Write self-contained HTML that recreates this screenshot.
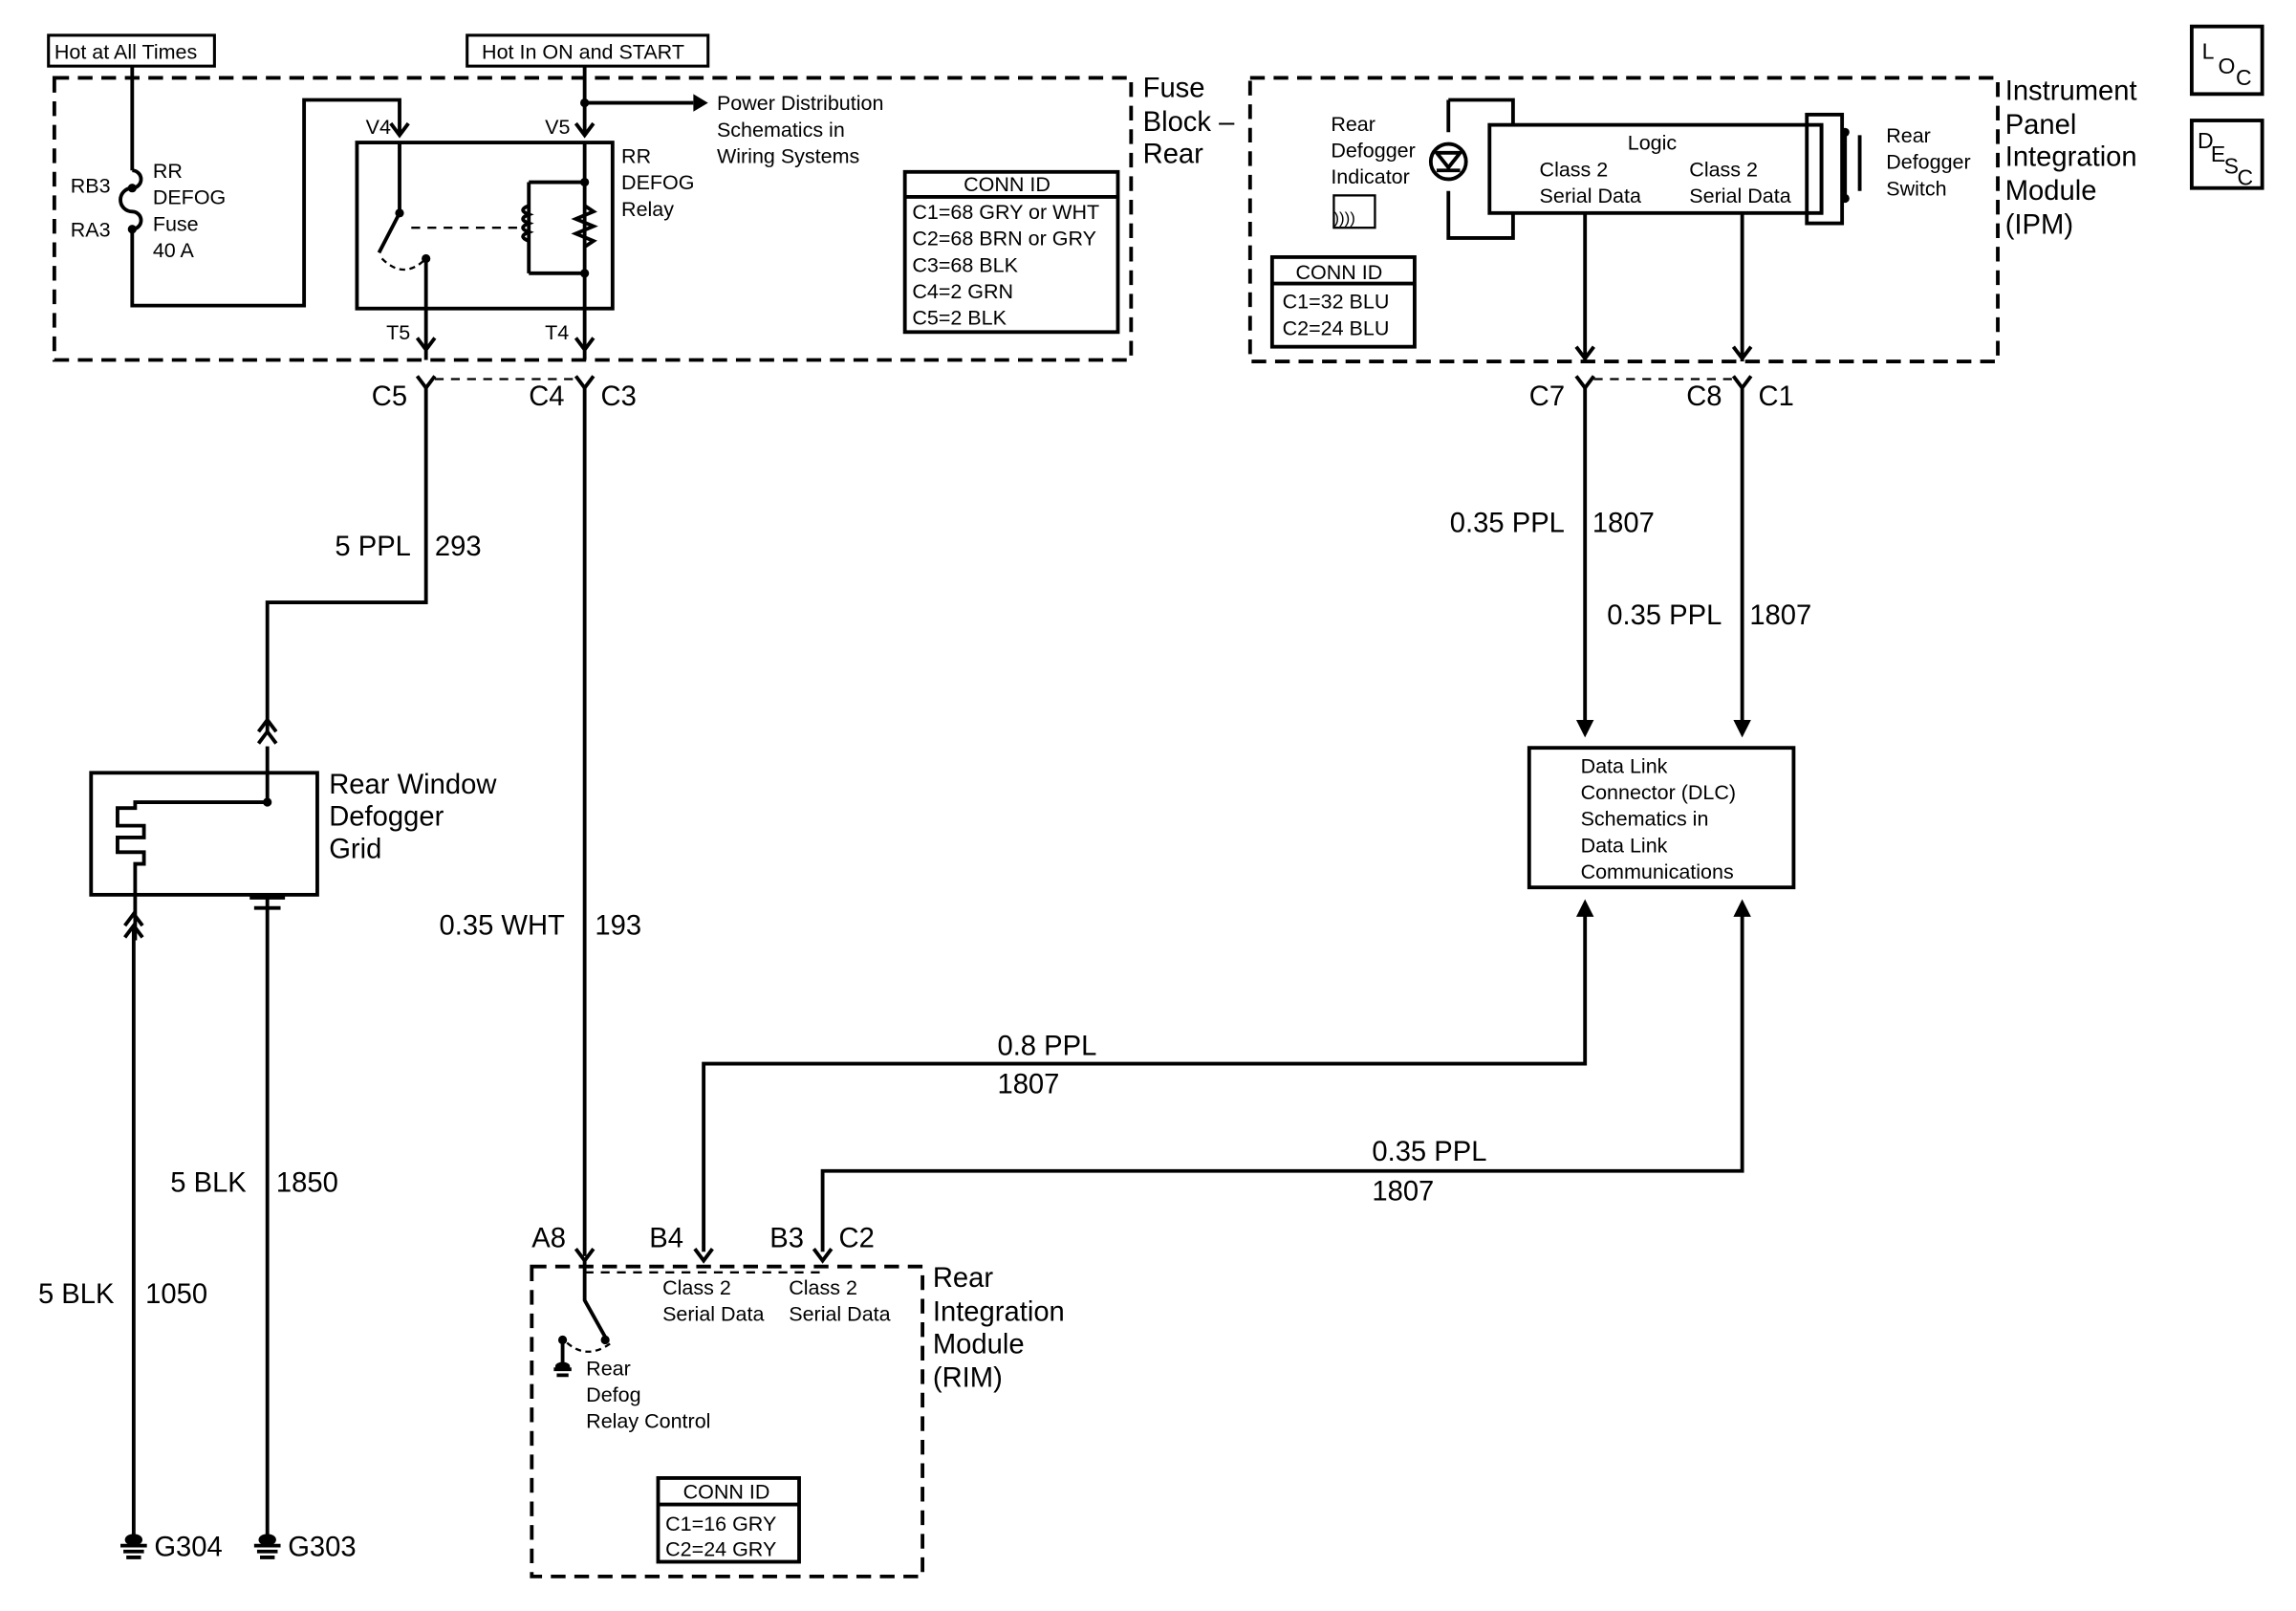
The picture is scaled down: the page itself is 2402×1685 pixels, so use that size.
<!DOCTYPE html>
<html><head><meta charset="utf-8"><style>
html,body{margin:0;padding:0;background:#fff}
svg{display:block}
text{font-family:"Liberation Sans",Arial,sans-serif;fill:#000}
.s{font-size:14px}.m{font-size:15px}.l{font-size:19px}
</style></head><body>
<svg width="2402" height="1685" viewBox="0 0 1563 1096.5" preserveAspectRatio="none" xmlns="http://www.w3.org/2000/svg">
<g fill="none" stroke="#000" stroke-width="2.5">
<!-- top boxes -->
<rect x="33" y="24" width="113" height="21" stroke-width="2"/>
<rect x="318" y="24" width="164" height="21" stroke-width="2"/>
<!-- fuse block dashed -->
<rect x="37" y="53" width="733" height="192" stroke-dasharray="10,6"/>
<!-- hot at all times wire -->
<path d="M90 45V116M90 156V208H207V68H272V90"/>
<path d="M90 116a6 6 0 0 1 0 12a8 8 0 0 0 0 16a6 6 0 0 1 0 12"/>
<path d="M398 45V90M398 70H472"/>
<path d="M266 84l6 8l6-8M392 84l6 8l6-8"/>
<!-- relay -->
<rect x="243" y="97" width="174" height="113"/>
<path d="M272 97V145L258 172M290 176V210M398 97V210M360 124H398M360 186H398M360 124V186"/>
<path d="M280 155H352" stroke-dasharray="6,5" stroke-width="1.5"/>
<path d="M360 140q-8 3 0 6q-8 3 0 6q-8 3 0 6q-8 3 0 6" />
<path d="M398 140l6 4l-12 5l12 5l-12 5l12 5l-6 4"/>
<path d="M260 176q15 15 30 0" stroke-dasharray="4,3" stroke-width="1.5"/>
<path d="M284 230l6 8l6-8M392 230l6 8l6-8M290 210V245M398 210V245"/>
<!-- conn id fuse -->
<rect x="616" y="117" width="145" height="109"/><path d="M616 134H761"/>
<!-- connectors below fuse -->
<path d="M284 256l6 8l6-8M392 256l6 8l6-8"/>
<path d="M296 258H392" stroke-dasharray="6,5" stroke-width="1.5"/>
<path d="M290 262V410H182V500M398 262V855"/>
<path d="M176 498l6-8l6 8M176 506l6-8l6 8"/>
<!-- defogger -->
<rect x="62" y="526" width="154" height="83"/>
<path d="M182 508V546H92V550H80V562H98V570H80V580H98V588H92V640M182 609V1050"/>
<path d="M170 611H194M173 618H191"/>
<path d="M85 638l6-8l6 8M85 630l6-8l6 8"/>
<path d="M91 632V1050M91 1050H91"/>
<!-- grounds -->
<path d="M82 1052H100M84 1056H98M86 1060H96M173 1052H191M175 1056H189M177 1060H187"/>
<!-- IPM -->
<rect x="851" y="53" width="509" height="193" stroke-dasharray="10,6"/>
<rect x="1014" y="85" width="226" height="60"/>
<path d="M986 68H1030V85M986 68V90M986 130V162H1030V145"/>
<circle cx="986" cy="110" r="12"/>
<path d="M978 104h16l-8 10zM978 116h16"/>
<rect x="1230" y="78" width="24" height="74"/>
<path d="M1240 85V145M1254 90L1256 90M1256 88V135M1266 92V130"/>
<rect x="866" y="175" width="97" height="61"/><path d="M866 193H963"/>
<rect x="908" y="133" width="28" height="22" stroke-width="1.5"/>
<path d="M1079 145V246M1186 145V246M1073 236l6 8l6-8M1180 236l6 8l6-8"/>
<path d="M1073 256l6 8l6-8M1180 256l6 8l6-8"/>
<path d="M1085 258H1180" stroke-dasharray="6,5" stroke-width="1.5"/>
<path d="M1079 262V490M1186 262V490"/>
<!-- DLC -->
<rect x="1041" y="509" width="180" height="95"/>
<path d="M1079 622V724H479V852M1186 622V797H560V852"/>
<!-- RIM -->
<rect x="362" y="862" width="266" height="211" stroke-dasharray="10,6"/>
<path d="M392 850l6 8l6-8M473 850l6 8l6-8M554 850l6 8l6-8"/>
<path d="M398 858V885L412 910M383 912V932M377 932H389M379 936H387"/>
<path d="M386 914q14 12 30 0" stroke-dasharray="4,3" stroke-width="1.5"/>
<path d="M398 866H560" stroke-dasharray="6,5" stroke-width="1.5"/>
<rect x="448" y="1006" width="96" height="57"/><path d="M448 1024H544"/>
<!-- LOC DESC -->
<rect x="1492" y="18" width="48" height="46"/>
<rect x="1492" y="82" width="48" height="46"/>
</g>
<g fill="#000">
<path d="M472 64l10 6l-10 6z"/>
<path d="M1073 490l6 12l6-12zM1180 490l6 12l6-12zM1073 624l6-12l6 12zM1180 624l6-12l6 12z"/>
<circle cx="90" cy="128" r="3"/><circle cx="90" cy="156" r="3"/>
<circle cx="398" cy="70" r="3"/><circle cx="398" cy="124" r="3"/><circle cx="398" cy="186" r="3"/>
<circle cx="272" cy="145" r="3"/><circle cx="290" cy="176" r="3"/><circle cx="182" cy="546" r="3"/>
<circle cx="1256" cy="90" r="3"/><circle cx="1256" cy="135" r="3"/>
<circle cx="383" cy="912" r="3"/><circle cx="412" cy="912" r="3"/>
<ellipse cx="91" cy="1048" rx="6" ry="4"/><ellipse cx="182" cy="1048" rx="6" ry="4"/>
<ellipse cx="383" cy="930" rx="5" ry="3"/>
</g>
<text class="s" x="37" y="40">Hot at All Times</text>
<text class="s" x="328" y="40">Hot In ON and START</text>
<text class="s" x="48" y="131">RB3</text><text class="s" x="48" y="161">RA3</text>
<text class="s" x="104" y="121">RR</text><text class="s" x="104" y="139">DEFOG</text><text class="s" x="104" y="157">Fuse</text><text class="s" x="104" y="175">40 A</text>
<text class="s" x="249" y="91">V4</text><text class="s" x="371" y="91">V5</text>
<text class="s" x="423" y="111">RR</text><text class="s" x="423" y="129">DEFOG</text><text class="s" x="423" y="147">Relay</text>
<text class="s" x="488" y="75">Power Distribution</text><text class="s" x="488" y="93">Schematics in</text><text class="s" x="488" y="111">Wiring Systems</text>
<text class="s" x="263" y="231">T5</text><text class="s" x="371" y="231">T4</text>
<text class="s" x="656" y="130">CONN ID</text>
<text class="s" x="621" y="149">C1=68 GRY or WHT</text><text class="s" x="621" y="167">C2=68 BRN or GRY</text>
<text class="s" x="621" y="185">C3=68 BLK</text><text class="s" x="621" y="203">C4=2 GRN</text><text class="s" x="621" y="221">C5=2 BLK</text>
<text class="l" x="778" y="66">Fuse</text><text class="l" x="778" y="89">Block –</text><text class="l" x="778" y="111">Rear</text>
<text class="l" x="253" y="276">C5</text><text class="l" x="360" y="276">C4</text><text class="l" x="409" y="276">C3</text>
<text class="l" x="228" y="378">5 PPL</text><text class="l" x="296" y="378">293</text>
<text class="l" x="224" y="540">Rear Window</text><text class="l" x="224" y="562">Defogger</text><text class="l" x="224" y="584">Grid</text>
<text class="l" x="299" y="636">0.35 WHT</text><text class="l" x="405" y="636">193</text>
<text class="l" x="116" y="811">5 BLK</text><text class="l" x="188" y="811">1850</text>
<text class="l" x="26" y="887">5 BLK</text><text class="l" x="99" y="887">1050</text>
<text class="l" x="105" y="1059">G304</text><text class="l" x="196" y="1059">G303</text>
<text class="s" x="906" y="89">Rear</text><text class="s" x="906" y="107">Defogger</text><text class="s" x="906" y="125">Indicator</text>
<text class="s" x="908" y="152" style="font-size:11px">))))</text>
<text class="s" x="1108" y="102">Logic</text>
<text class="s" x="1048" y="120">Class 2</text><text class="s" x="1048" y="138">Serial Data</text>
<text class="s" x="1150" y="120">Class 2</text><text class="s" x="1150" y="138">Serial Data</text>
<text class="s" x="1284" y="97">Rear</text><text class="s" x="1284" y="115">Defogger</text><text class="s" x="1284" y="133">Switch</text>
<text class="s" x="882" y="190">CONN ID</text><text class="s" x="873" y="210">C1=32 BLU</text><text class="s" x="873" y="228">C2=24 BLU</text>
<text class="l" x="1365" y="68">Instrument</text><text class="l" x="1365" y="91">Panel</text><text class="l" x="1365" y="113">Integration</text><text class="l" x="1365" y="136">Module</text><text class="l" x="1365" y="159">(IPM)</text>
<text class="m" x="1499" y="40">L</text><text class="m" x="1510" y="50">O</text><text class="m" x="1522" y="58">C</text>
<text class="m" x="1496" y="101">D</text><text class="m" x="1505" y="110">E</text><text class="m" x="1514" y="118">S</text><text class="m" x="1523" y="126">C</text>
<text class="l" x="1041" y="276">C7</text><text class="l" x="1148" y="276">C8</text><text class="l" x="1197" y="276">C1</text>
<text class="l" x="987" y="362">0.35 PPL</text><text class="l" x="1084" y="362">1807</text>
<text class="l" x="1094" y="425">0.35 PPL</text><text class="l" x="1191" y="425">1807</text>
<text class="s" x="1076" y="526">Data Link</text><text class="s" x="1076" y="544">Connector (DLC)</text><text class="s" x="1076" y="562">Schematics in</text><text class="s" x="1076" y="580">Data Link</text><text class="s" x="1076" y="598">Communications</text>
<text class="l" x="679" y="718">0.8 PPL</text><text class="l" x="679" y="744">1807</text>
<text class="l" x="934" y="790">0.35 PPL</text><text class="l" x="934" y="817">1807</text>
<text class="l" x="362" y="849">A8</text><text class="l" x="442" y="849">B4</text><text class="l" x="524" y="849">B3</text><text class="l" x="571" y="849">C2</text>
<text class="s" x="451" y="881">Class 2</text><text class="s" x="451" y="899">Serial Data</text>
<text class="s" x="537" y="881">Class 2</text><text class="s" x="537" y="899">Serial Data</text>
<text class="s" x="399" y="936">Rear</text><text class="s" x="399" y="954">Defog</text><text class="s" x="399" y="972">Relay Control</text>
<text class="s" x="465" y="1020">CONN ID</text><text class="s" x="453" y="1042">C1=16 GRY</text><text class="s" x="453" y="1059">C2=24 GRY</text>
<text class="l" x="635" y="876">Rear</text><text class="l" x="635" y="899">Integration</text><text class="l" x="635" y="921">Module</text><text class="l" x="635" y="944">(RIM)</text>
</svg>
</body></html>
